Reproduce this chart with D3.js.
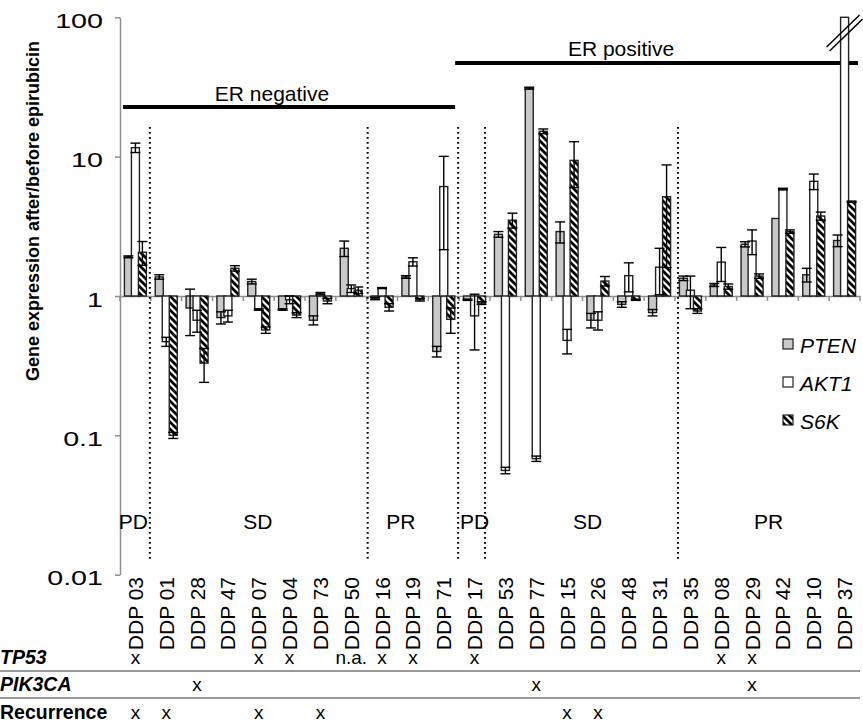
<!DOCTYPE html>
<html>
<head>
<meta charset="utf-8">
<script src="https://cdn.jsdelivr.net/npm/d3@7"></script>
<style>
  html, body { margin: 0; padding: 0; background: #fff; }
  svg { display: block; font-family: "Liberation Sans", Arial, Helvetica, sans-serif; }
</style>
</head>
<body>
<svg id="chart" width="863" height="722"></svg>
<script>
// ---- data -------------------------------------------------------------
const patients = ["DDP 03","DDP 01","DDP 28","DDP 47","DDP 07","DDP 04","DDP 73","DDP 50",
  "DDP 16","DDP 19","DDP 71","DDP 17","DDP 53","DDP 77","DDP 15","DDP 26","DDP 48","DDP 31",
  "DDP 35","DDP 08","DDP 29","DDP 42","DDP 10","DDP 37"];

const genes = ["PTEN", "AKT1", "S6K"];

// ratio after/before epirubicin (mean) and error (+/-)
const ptenMean = [1.91, 1.37, 0.82, 0.70, 1.27, 0.80, 0.67, 2.20, 0.96, 1.37, 0.40, 0.94,
  2.77, 31.0, 2.90, 0.67, 0.87, 0.76, 1.34, 1.20, 2.35, 3.60, 1.42, 2.50];
const ptenErr = [0.03, 0.05, 0.30, 0.07, 0.05, 0.01, 0.05, 0.28, 0.02, 0.03, 0.035, 0.01,
  0.13, 0.5, 0.5, 0.08, 0.04, 0.04, 0.05, 0.03, 0.10, 0, 0.16, 0.24];
const akt1Mean = [11.6, 0.47, 0.67, 0.72, 0.80, 0.94, 1.04, 1.13, 1.14, 1.76, 6.10, 0.72,
  0.056, 0.068, 0.48, 0.67, 1.40, 1.61, 1.10, 1.75, 2.48, 5.85, 6.65, 100];
const akt1Err = [0.9, 0.035, 0.12, 0.07, 0.01, 0.06, 0.02, 0.07, 0.01, 0.12, 3.95, 0.31,
  0.003, 0.003, 0.096, 0.10, 0.33, 0.59, 0.29, 0.48, 0.50, 0.08, 0.85, 0];
const s6kMean = [2.06, 0.10, 0.33, 1.58, 0.57, 0.73, 0.92, 1.10, 0.83, 0.94, 0.68, 0.89,
  3.50, 15.2, 9.40, 1.28, 0.94, 5.16, 0.78, 1.17, 1.39, 2.90, 3.75, 4.75];
const s6kErr = [0.4, 0.005, 0.09, 0.07, 0.03, 0.03, 0.04, 0.06, 0.05, 0.02, 0.14, 0.02,
  0.43, 0.6, 3.4, 0.10, 0.01, 3.56, 0.03, 0.05, 0.05, 0.08, 0.25, 0.05];

// bars that run off the top of the axis (drawn with a break mark)
const offScale = [{ patient: "DDP 37", gene: "AKT1" }];

const yTicks = [0.01, 0.1, 1, 10, 100];
const yTickLabels = ["0.01", "0.1", "1", "10", "100"];

// clinical response groups and ER status
const responseGroups = [
  { label: "PD", from: "DDP 03", to: "DDP 03" },
  { label: "SD", from: "DDP 01", to: "DDP 50" },
  { label: "PR", from: "DDP 16", to: "DDP 71" },
  { label: "PD", from: "DDP 17", to: "DDP 17" },
  { label: "SD", from: "DDP 53", to: "DDP 31" },
  { label: "PR", from: "DDP 35", to: "DDP 37" }
];
const erGroups = [
  { label: "ER negative", from: "DDP 03", to: "DDP 71" },
  { label: "ER positive", from: "DDP 17", to: "DDP 37" }
];

// table rows below the axis
const tp53Marks = ["x","","","","x","x","","n.a.","x","x","","x","","","","","","","","x","x","","",""];
const pik3caMarks = ["","","x","","","","","","","","","","","x","","","","","","","x","","",""];
const recurrenceMarks = ["x","x","","","x","","x","","","","","","","","x","x","","","","","","","",""];

// ---- layout -----------------------------------------------------------
const svg = d3.select("#chart");
const FONT = '"Liberation Sans", Arial, Helvetica, sans-serif';

const x = d3.scaleBand().domain(patients).range([120, 860]);
const y = d3.scaleLog().domain([0.01, 100]).range([574.7, 17.3]).clamp(true);
const bw = x.bandwidth();
const base = y(1);
const mid = p => x(p) + bw / 2;

const geneStyle = {
  PTEN: { fill: "#c9c9c9", dx: -7 },
  AKT1: { fill: "#ffffff", dx: 0 },
  S6K:  { fill: "url(#hatch)", dx: 7 }
};
const means = { PTEN: ptenMean, AKT1: akt1Mean, S6K: s6kMean };
const errs  = { PTEN: ptenErr,  AKT1: akt1Err,  S6K: s6kErr };

// diagonal hatch for S6K
const defs = svg.append("defs");
const pat = defs.append("pattern").attr("id", "hatch")
  .attr("patternUnits", "userSpaceOnUse").attr("width", 7).attr("height", 7);
pat.append("rect").attr("width", 7).attr("height", 7).attr("fill", "#fff");
pat.append("path").attr("d", "M-1,-1 L8,8 M-1,6 L1,8 M6,-1 L8,1")
  .attr("stroke", "#000").attr("stroke-width", 2.8);

// ---- axes -------------------------------------------------------------
const axisColor = "#8f8f8f";
const tickStretch = 1.4;

const yAxis = svg.append("g").attr("transform", "translate(120,0)")
  .call(d3.axisLeft(y).tickValues(yTicks)
    .tickFormat((d, i) => yTickLabels[i]).tickSize(5).tickSizeOuter(0));
yAxis.select(".domain").attr("stroke", axisColor).attr("stroke-width", 1.5);
yAxis.selectAll(".tick line").attr("stroke", axisColor).attr("stroke-width", 1.5);
yAxis.selectAll(".tick text")
  .attr("font-family", FONT).attr("font-size", 20.5).attr("fill", "#000")
  .attr("x", -17 / tickStretch).attr("dy", "0.5em")
  .attr("transform", `scale(${tickStretch},1)`);

// x axis baseline at ratio 1
const xAxis = svg.append("g").attr("transform", `translate(0,${base})`)
  .call(d3.axisBottom(x).tickSize(0).tickFormat(""));
xAxis.select(".domain").attr("stroke", axisColor).attr("stroke-width", 1.5);
xAxis.selectAll(".tick").remove();
const bounds = patients.map(p => x(p)).concat([x(patients[patients.length - 1]) + bw]);
svg.append("g").selectAll("line").data(bounds).join("line")
  .attr("x1", d => d).attr("x2", d => d)
  .attr("y1", base).attr("y2", base + 5)
  .attr("stroke", axisColor).attr("stroke-width", 1.5);

// y axis title
svg.append("text")
  .attr("transform", "translate(39,211) rotate(-90)")
  .attr("text-anchor", "middle")
  .attr("font-family", FONT).attr("font-size", 18).attr("font-weight", "bold")
  .text("Gene expression after/before epirubicin");

// patient labels
svg.append("g").selectAll("text").data(patients).join("text")
  .attr("transform", p => `translate(${mid(p) + 7.5},577) rotate(-90)`)
  .attr("text-anchor", "end")
  .attr("font-family", FONT).attr("font-size", 21)
  .text(p => p);

// ---- group separators and labels ---------------------------------------
const sepAt = ["DDP 01", "DDP 16", "DDP 17", "DDP 53", "DDP 35"];
const sepNudge = [-1, 1, -1, -5, 3];
svg.append("g").selectAll("line").data(sepAt).join("line")
  .attr("x1", (p, i) => x(p) + sepNudge[i]).attr("x2", (p, i) => x(p) + sepNudge[i])
  .attr("y1", 127).attr("y2", 560)
  .attr("stroke", "#000").attr("stroke-width", 2)
  .attr("stroke-dasharray", "1.8,3.2");

const groupNudge = [-2, -1, -12, 0, 5, 1];
svg.append("g").selectAll("text").data(responseGroups).join("text")
  .attr("x", (g, i) => (x(g.from) + x(g.to) + bw) / 2 + groupNudge[i])
  .attr("y", 529)
  .attr("text-anchor", "middle")
  .attr("font-family", FONT).attr("font-size", 21)
  .text(g => g.label);

const erY = [107, 63];
const erTextY = [101, 56];
const erTextX = [272, 621];
erGroups.forEach((g, i) => {
  const x0 = i === 0 ? x(g.from) + 3 : x(g.from) - 4;
  const x1 = i === 0 ? x(g.to) + bw - 4 : x(g.to) + bw - 2;
  svg.append("line").attr("x1", x0).attr("x2", x1)
    .attr("y1", erY[i]).attr("y2", erY[i])
    .attr("stroke", "#000").attr("stroke-width", 4);
  svg.append("text").attr("x", erTextX[i]).attr("y", erTextY[i])
    .attr("text-anchor", "middle")
    .attr("font-family", FONT).attr("font-size", 21)
    .text(g.label);
});

// ---- bars -------------------------------------------------------------
const barW = 8;
const rows = [];
patients.forEach((p, i) => {
  genes.forEach(g => rows.push({ p, g, v: means[g][i], e: errs[g][i] }));
});

const barG = svg.append("g");
barG.selectAll("rect").data(rows).join("rect")
  .attr("x", d => mid(d.p) + geneStyle[d.g].dx - barW / 2)
  .attr("y", d => Math.min(y(d.v), base))
  .attr("width", barW)
  .attr("height", d => Math.abs(y(d.v) - base))
  .attr("fill", d => geneStyle[d.g].fill)
  .attr("stroke", "#222").attr("stroke-width", 1.4);

// error bars (mean +/- error)
const errG = svg.append("g").attr("stroke", "#000").attr("stroke-width", 1.4);
rows.filter(d => d.e > 0).forEach(d => {
  const cx = mid(d.p) + geneStyle[d.g].dx;
  const lo = y(Math.max(d.v - d.e, 1e-4));
  const hi = y(d.v + d.e);
  errG.append("line").attr("x1", cx).attr("x2", cx).attr("y1", lo).attr("y2", hi);
  [lo, hi].forEach(yy => errG.append("line")
    .attr("x1", cx - 5).attr("x2", cx + 5).attr("y1", yy).attr("y2", yy));
});

// break marks on bars that exceed the axis
offScale.forEach(o => {
  const cx = mid(o.patient) + geneStyle[o.gene].dx;
  [[-18, 47, 15, 15], [-15, 51, 18, 19]].forEach(([a, b, c, d]) => {
    svg.append("line")
      .attr("x1", cx + a).attr("y1", b).attr("x2", cx + c).attr("y2", d)
      .attr("stroke", "#000").attr("stroke-width", 1.5);
  });
});

// ---- legend -----------------------------------------------------------
const legend = svg.append("g").attr("transform", "translate(783,339)");
genes.forEach((g, i) => {
  legend.append("rect").attr("x", 0).attr("y", i * 38).attr("width", 10).attr("height", 10)
    .attr("fill", geneStyle[g].fill).attr("stroke", "#222").attr("stroke-width", 1.2);
  legend.append("text").attr("x", 17).attr("y", i * 38 + 14)
    .attr("font-family", FONT).attr("font-size", 21).attr("font-style", "italic")
    .text(g);
});

// ---- table of mutations / recurrence ------------------------------------
const tableRows = [
  { label: "TP53", marks: tp53Marks, italic: true, y: 664 },
  { label: "PIK3CA", marks: pik3caMarks, italic: true, y: 691 },
  { label: "Recurrence", marks: recurrenceMarks, italic: false, y: 719 }
];
tableRows.forEach(r => {
  svg.append("text").attr("x", 0).attr("y", r.y)
    .attr("font-family", FONT).attr("font-size", 19.5).attr("font-weight", "bold")
    .attr("font-style", r.italic ? "italic" : "normal")
    .text(r.label);
  svg.append("g").selectAll("text").data(patients).join("text")
    .attr("x", p => mid(p)).attr("y", r.y)
    .attr("text-anchor", "middle")
    .attr("font-family", FONT).attr("font-size", 19)
    .text((p, i) => r.marks[i]);
});
[671, 698].forEach(ly => svg.append("line")
  .attr("x1", 0).attr("x2", 860).attr("y1", ly).attr("y2", ly)
  .attr("stroke", "#777").attr("stroke-width", 1.3));
</script>
</body>
</html>
